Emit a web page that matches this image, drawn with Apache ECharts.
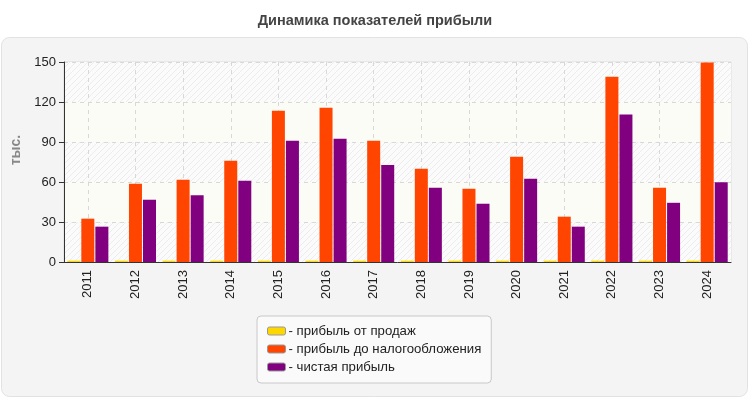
<!DOCTYPE html>
<html><head><meta charset="utf-8">
<script src="https://cdn.jsdelivr.net/npm/echarts@6/dist/echarts.min.js"></script>
<style>html,body{margin:0;padding:0;background:#fff;}#c{width:750px;height:400px;}</style>
</head><body><div id="c"></div>
<script>
const years = ['2011','2012','2013','2014','2015','2016','2017','2018','2019','2020','2021','2022','2023','2024'];
const salesProfit = [1,1,1,1,1,1,1,1,1,1,1,1,1,1];
const preTaxProfit = [32.5,58.7,61.7,76,113.5,115.7,91,69.9,54.9,78.9,34,139,55.6,149.6];
const netProfit = [26.5,46.7,50,61,91,92.5,72.8,55.6,43.7,62.5,26.5,110.6,44.4,59.9];
const yTicks = [0,30,60,90,120,150];

function hatch(){
  const c=document.createElement('canvas');c.width=6;c.height=6;
  const g=c.getContext('2d');g.fillStyle='#fbfbfb';g.fillRect(0,0,6,6);
  g.strokeStyle='#ececec';g.lineWidth=1;
  g.beginPath();g.moveTo(0,6);g.lineTo(6,0);g.moveTo(-3,3);g.lineTo(3,-3);g.moveTo(3,9);g.lineTo(9,3);g.stroke();
  return {image:c,repeat:'repeat'};
}
const ch = echarts.init(document.getElementById('c'));
const font = 'Liberation Sans, Arial, sans-serif';
ch.setOption({
  animation:false,
  textStyle:{fontFamily:font},
  graphic:[{type:'rect',z:-10,shape:{x:1.5,y:37.5,width:746,height:359,r:8},style:{fill:'#f4f4f4',stroke:'#e2e2e2',lineWidth:1}}],
  title:{text:'Динамика показателей прибыли',left:'center',top:8,textStyle:{fontSize:14.5,fontWeight:'bold',color:'#444',fontFamily:font}},
  legend:{orient:'vertical',left:257,top:316,padding:[8,10,9,10],backgroundColor:'#fafafa',borderColor:'#c8c8c8',borderWidth:1,borderRadius:4,
    itemWidth:18,itemHeight:8,itemGap:4,textStyle:{fontSize:13.2,lineHeight:14,color:'#222',fontFamily:font,padding:[0,0,0,-2]},
    itemStyle:{borderColor:'#999',borderWidth:1},
    formatter:n=>'- '+n,
    data:['прибыль от продаж','прибыль до налогообложения','чистая прибыль']},
  grid:{left:64,right:19,top:62,bottom:138,show:true,borderColor:'#ddd',borderWidth:1},
  xAxis:{type:'category',data:years,
    axisLine:{lineStyle:{color:'#333'}},
    axisTick:{alignWithLabel:true,length:5,lineStyle:{color:'#333'}},
    axisLabel:{rotate:90,fontSize:13,color:'#222',margin:8},
    splitLine:{show:true,alignWithLabel:true,lineStyle:{type:[4,4],color:'#d8d8d8'}}},
  yAxis:{type:'value',min:0,max:150,interval:30,
    name:'тыс.',nameLocation:'middle',nameGap:28,nameRotate:90,nameTextStyle:{color:'#888',fontWeight:'bold',fontSize:14,padding:[0,0,0,24]},
    axisLine:{show:true,lineStyle:{color:'#333'}},
    axisTick:{show:true,length:5,lineStyle:{color:'#333'}},
    axisLabel:{fontSize:13,color:'#222',margin:8},
    splitLine:{lineStyle:{type:[4,4],color:'#d8d8d8'}},
    splitArea:{show:true,areaStyle:{color:[hatch(),'#fcfcf6']}}},
  series:[
    {name:'прибыль от продаж',type:'bar',data:salesProfit,barWidth:13,barGap:'8%',itemStyle:{color:'#ffd700'}},
    {name:'прибыль до налогообложения',type:'bar',data:preTaxProfit,barWidth:13,barGap:'8%',itemStyle:{color:'#ff4500'}},
    {name:'чистая прибыль',type:'bar',data:netProfit,barWidth:13,barGap:'8%',itemStyle:{color:'#800080'}}
  ]
});
</script></body></html>
